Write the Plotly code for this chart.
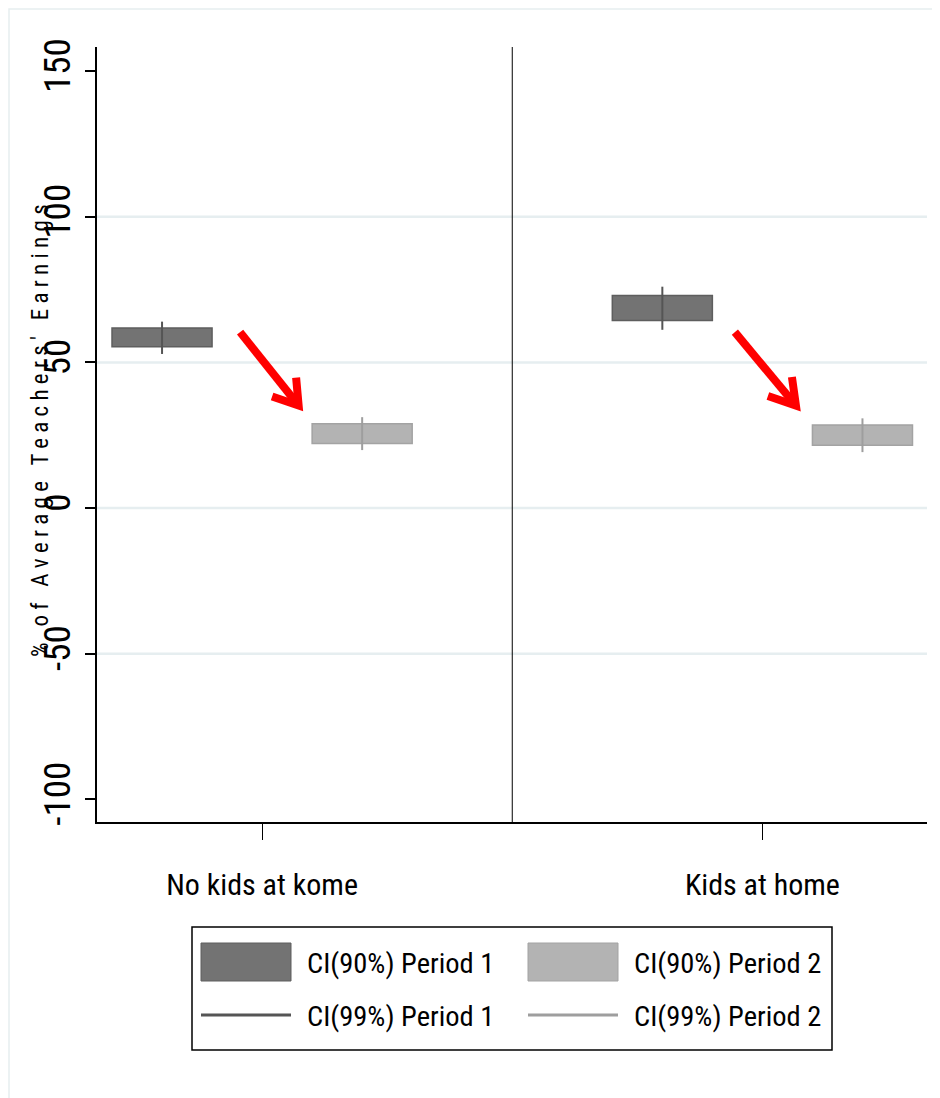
import plotly.graph_objects as go

# ---------------- data ----------------
groups = ["No kids at kome", "Kids at home"]
group_pos = [1, 2]
period_offset = [-0.2, 0.2]

p1_lo90 = [55.4, 64.4]
p1_hi90 = [61.8, 73.0]
p1_lo99 = [52.9, 61.2]
p1_hi99 = [64.0, 76.0]

p2_lo90 = [22.2, 21.6]
p2_hi90 = [28.9, 28.5]
p2_lo99 = [19.9, 19.2]
p2_hi99 = [31.2, 30.8]

y_tickvals = [-100, -50, 0, 50, 100, 150]
y_ticktext = ["-100", "-50", "0", "50", "100", "150"]
grid_vals = [-50, 0, 50, 100]

# red arrows (annotation marks) in data units: start, vertex, arm1, arm2
arrow_start_x = [0.956, 1.945]
arrow_start_y = [60.4, 60.4]
arrow_tip_x = [1.073, 2.067]
arrow_tip_y = [35.2, 35.2]
arrow_arm1_x = [1.020, 2.011]
arrow_arm1_y = [38.3, 38.5]
arrow_arm2_x = [1.068, 2.059]
arrow_arm2_y = [44.8, 45.0]

legend_labels = ["CI(90%) Period 1", "CI(90%) Period 2", "CI(99%) Period 1", "CI(99%) Period 2"]

# ---------------- style ----------------
FONT = "Roboto Condensed, DejaVu Sans Condensed, Liberation Sans, sans-serif"
DARK_FILL, DARK_EDGE, DARK_WHISK = "#737373", "#5e5e5e", "#555555"
LIGHT_FILL, LIGHT_EDGE, LIGHT_WHISK = "#b3b3b3", "#a3a3a3", "#9e9e9e"
BOX_W = 0.2

BODY = 8                       # page body margin of the html page
W, H = 940 - BODY, 1098 - BODY
PL, PR, PT, PB = 97, 927, 47, 822   # plot area in page pixels


def px(xp):
    return (xp - PL) / (PR - PL)


def py(yp):
    return (PB - yp) / (PB - PT)


fig = go.Figure()


def whisker_xy(xc, lo, hi):
    xs, ys = [], []
    for x, a, b in zip(xc, lo, hi):
        xs += [x, x, None]
        ys += [a, b, None]
    return xs, ys


x_p1 = [g + period_offset[0] for g in group_pos]
x_p2 = [g + period_offset[1] for g in group_pos]

for xc, lo, hi, col in [(x_p1, p1_lo99, p1_hi99, DARK_WHISK), (x_p2, p2_lo99, p2_hi99, LIGHT_WHISK)]:
    xs, ys = whisker_xy(xc, lo, hi)
    fig.add_trace(go.Scatter(x=xs, y=ys, mode="lines", line=dict(color=col, width=2),
                             showlegend=False, hoverinfo="skip"))

for xc, lo, hi, fill, edge in [(x_p1, p1_lo90, p1_hi90, DARK_FILL, DARK_EDGE),
                                (x_p2, p2_lo90, p2_hi90, LIGHT_FILL, LIGHT_EDGE)]:
    fig.add_trace(go.Bar(x=xc, y=[h - l for l, h in zip(lo, hi)], base=lo, width=BOX_W,
                         marker=dict(color=fill, line=dict(color=edge, width=1.5)),
                         showlegend=False))

# red arrows
for i in range(len(arrow_start_x)):
    fig.add_trace(go.Scatter(x=[arrow_start_x[i], arrow_tip_x[i]], y=[arrow_start_y[i], arrow_tip_y[i]],
                             mode="lines", line=dict(color="#ff0000", width=8),
                             showlegend=False, hoverinfo="skip"))
    fig.add_trace(go.Scatter(x=[arrow_arm1_x[i], arrow_tip_x[i], arrow_arm2_x[i]],
                             y=[arrow_arm1_y[i], arrow_tip_y[i], arrow_arm2_y[i]],
                             mode="lines", line=dict(color="#ff0000", width=8),
                             showlegend=False, hoverinfo="skip"))

shapes = []
# gridlines
for g in grid_vals:
    shapes.append(dict(type="line", xref="paper", x0=0, x1=1, yref="y", y0=g, y1=g,
                       line=dict(color="#e6eef0", width=2.5), layer="below"))
# divider
shapes.append(dict(type="line", xref="x", x0=1.5, x1=1.5, yref="paper", y0=0, y1=1,
                   line=dict(color="black", width=1)))
# outer frame
shapes.append(dict(type="rect", xref="paper", yref="paper", x0=px(9), x1=px(960), y0=py(1120), y1=py(9),
                   line=dict(color="#e6eef0", width=1.5), layer="below"))
# legend box
shapes.append(dict(type="rect", xref="paper", yref="paper", x0=px(192), x1=px(832), y0=py(1050), y1=py(927),
                   line=dict(color="black", width=1.5)))
# legend symbols
shapes.append(dict(type="rect", xref="paper", yref="paper", x0=px(201), x1=px(291), y0=py(981), y1=py(943),
                   fillcolor=DARK_FILL, line=dict(color=DARK_EDGE, width=1)))
shapes.append(dict(type="rect", xref="paper", yref="paper", x0=px(528), x1=px(618), y0=py(981), y1=py(943),
                   fillcolor=LIGHT_FILL, line=dict(color=LIGHT_EDGE, width=1)))
shapes.append(dict(type="line", xref="paper", yref="paper", x0=px(201), x1=px(291), y0=py(1015), y1=py(1015),
                   line=dict(color=DARK_WHISK, width=3)))
shapes.append(dict(type="line", xref="paper", yref="paper", x0=px(528), x1=px(618), y0=py(1015), y1=py(1015),
                   line=dict(color=LIGHT_WHISK, width=3)))

annotations = []
leg_pos = [(305, 963), (632, 963), (305, 1017), (632, 1017)]
for lab, (lx, ly) in zip(legend_labels, leg_pos):
    annotations.append(dict(text=lab, xref="paper", yref="paper", x=px(lx), y=py(ly),
                            xanchor="left", yanchor="middle", showarrow=False,
                            font=dict(family=FONT, size=28.5, color="black")))

ytitle = "   ".join([" ".join(list(w)) for w in "% of Average Teachers' Earnings".split(" ")])
annotations.append(dict(text=ytitle, xref="paper", yref="paper", x=px(40), y=py(431),
                        textangle=-90, xanchor="center", yanchor="middle", showarrow=False,
                        font=dict(family=FONT, size=23, color="black")))

fig.update_layout(
    width=W, height=H,
    margin=dict(l=PL - BODY, r=W + BODY - PR, t=PT - BODY, b=H + BODY - PB, pad=0),
    paper_bgcolor="white", plot_bgcolor="white",
    barmode="overlay",
    showlegend=False,
    shapes=shapes,
    annotations=annotations,
    font=dict(family=FONT, color="black"),
    xaxis=dict(range=[0.670, 2.329], tickmode="array", tickvals=group_pos, ticktext=groups,
               showgrid=False, zeroline=False, showline=True, linecolor="black", linewidth=1.5,
               ticks="outside", ticklen=16, tickwidth=1, tickcolor="black",
               tickfont=dict(family=FONT, size=30, color="black"), ticklabelstandoff=19),
    yaxis=dict(range=[-107.8, 158.3], tickmode="array", tickvals=y_tickvals, ticktext=y_ticktext,
               showgrid=False, zeroline=False, showline=True, linecolor="black", linewidth=1.5,
               ticks="outside", ticklen=10, tickwidth=1.5, tickcolor="black", tickangle=-90,
               tickfont=dict(family=FONT, size=37, color="black"), ticklabelstandoff=0),
)

fig.write_html("out.html")
